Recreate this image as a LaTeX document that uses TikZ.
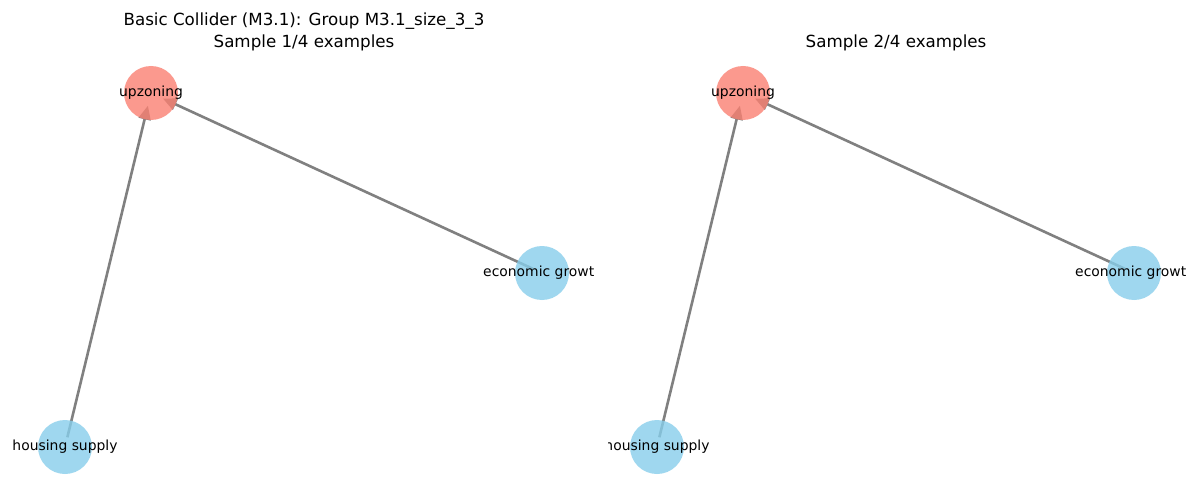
\documentclass[tikz,border=0pt]{standalone}
\usepackage{fontspec}
\setmainfont{DejaVu Sans}
\usetikzlibrary{arrows.meta}
\pgfdeclarelayer{bg}
\pgfsetlayers{bg,main}
\definecolor{salmonc}{RGB}{250,128,114}
\definecolor{skyc}{RGB}{135,206,235}
\definecolor{edgec}{RGB}{128,128,128}
\tikzset{
  vtx/.style={circle, minimum size=54pt, inner sep=0pt, draw=none, fill opacity=0.8},
  vred/.style={vtx, fill=salmonc},
  vblue/.style={vtx, fill=skyc},
  lbl/.style={font=\fontsize{13.9}{16}\selectfont, inner sep=0pt, text=black},
  ttl/.style={font=\fontsize{16.7}{22}\selectfont, inner sep=0pt, align=center},
  conn/.style={draw=edgec, line width=2.6pt, -{Triangle[length=14pt,width=12pt]}, shorten <=10pt, shorten >=13pt}
}
\begin{document}
\begin{tikzpicture}[x=1pt,y=-1pt]
\useasboundingbox (0,0) rectangle (1200,500);
% titles
\node[ttl] (t1) at (304,32) {Basic Collider (M3.1): Group M3.1\_size\_3\_3\\Sample 1/4 examples};
\node[ttl] (t2) at (896,43) {Sample 2/4 examples};
% left panel
\node[vred] (u1) at (151,93) {};
\node[vblue] (e1) at (542,273) {};
\node[vblue] (h1) at (65,447) {};
% right panel
\node[vred] (u2) at (743,93) {};
\node[vblue] (e2) at (1134,273) {};
\node[vblue] (h2) at (657,447) {};
\begin{pgfonlayer}{bg}
\fill[white] (0,0) rectangle (1200,500);
\draw[conn] (h1.center) -- (u1.center);
\draw[conn] (e1.center) -- (u1.center);
\draw[conn] (h2.center) -- (u2.center);
\draw[conn] (e2.center) -- (u2.center);
\end{pgfonlayer}
% labels
\node[lbl] (lu1) at (u1) {upzoning};
\node[lbl] (lh1) at (h1) {housing supply};
\node[lbl, anchor=west] (le1) at ([xshift=-59pt]e1.center) {economic growt};
\node[lbl] (lu2) at (u2) {upzoning};
\begin{scope}
\clip (608,0) rectangle (1200,500);
\node[lbl] (lh2) at (h2) {housing supply};
\end{scope}
\node[lbl, anchor=west] (le2) at ([xshift=-59pt]e2.center) {economic growt};
\end{tikzpicture}
\end{document}
